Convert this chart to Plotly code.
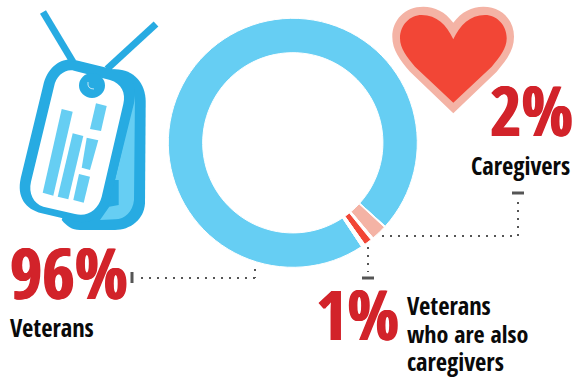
import plotly.graph_objects as go

WIDTH, HEIGHT = 576, 379

# Donut shares; small blank spacers keep the two thin slices apart
slice_labels = ["Veterans", "spacer a", "Caregivers", "spacer b", "Veterans who are also caregivers", "spacer c"]
slice_values = [96, 0.15, 2, 0.35, 1, 0.5]
slice_colors = ["#66CEF3", "#FFFFFF", "#F4B3A5", "#FFFFFF", "#F24636", "#FFFFFF"]

LIGHT_BLUE, DARK_BLUE = "#66CEF3", "#27ABE2"
PINK, RED, TEXT_RED = "#F4B3A5", "#F24636", "#D2232A"
LEADER = "#555555"
INK = "#0A0A0A"
FONT = "Open Sans Condensed, Asap Condensed, Archivo Narrow, Open Sans, sans-serif"

# (text, x, baseline y, size, colour)
labels = [
    ("96%", 10, 300, 70, TEXT_RED),
    ("2%", 490, 136, 68, TEXT_RED),
    ("1%", 316, 340, 68, TEXT_RED),
    ("Caregivers", 471, 175, 24.5, INK),
    ("Veterans", 10, 337, 24.5, INK),
    ("Veterans", 407, 315, 24.5, INK),
    ("who are also", 407, 343, 24, INK),
    ("caregivers", 407, 371, 24.5, INK),
]

# Leader runs: dotted polyline and the solid end tick
leaders = [
    ([(255, 269), (255, 278), (140, 278)], [(132, 272), (132, 283)]),
    ([(368, 247), (368, 272)], [(362, 278), (374, 278)]),
    ([(382, 236), (518, 236), (518, 200)], [(512, 193), (524, 193)]),
]


def path(points, ox=0.0, oy=0.0, k=1 / 3):
    """Build an SVG path from command tuples in a 3x drawing grid."""
    out = []
    for cmd, *xy in points:
        out.append(cmd + " ".join(
            f"{ox + xy[i] * k:.1f},{oy + xy[i + 1] * k:.1f}" for i in range(0, len(xy), 2)))
    return " ".join(out) + " Z"


def filled(d, color):
    return dict(type="path", path=d, xref="x", yref="y", fillcolor=color, line=dict(width=0), layer="above")


def stroke(p, q, color, width, dash="solid"):
    return dict(type="line", x0=p[0], y0=p[1], x1=q[0], y1=q[1], xref="x", yref="y",
                line=dict(color=color, width=width, dash=dash), layer="above")


shapes = []

# Dog tag: straps, rear tag, front tag, engraved bars, eyelet
shapes.append(stroke((43, 12), (73, 62), DARK_BLUE, 7))
shapes.append(stroke((156, 24), (107, 69), DARK_BLUE, 7))
shapes.append(filled(path([
    ("M", 340, 208), ("C", 400, 205, 437, 250, 437, 305), ("L", 435, 610),
    ("C", 432, 660, 390, 690, 345, 690), ("L", 240, 690), ("C", 215, 690, 200, 678, 185, 660),
]), DARK_BLUE))
shapes.append(filled(path([
    ("M", 405, 280), ("L", 402, 600), ("C", 398, 635, 375, 658, 345, 658), ("L", 300, 660),
    ("L", 328, 620), ("L", 356, 615), ("L", 356, 540), ("L", 345, 540),
]), LIGHT_BLUE))
shapes.append(filled(path([
    ("M", 225, 180), ("L", 360, 213), ("C", 400, 225, 412, 270, 402, 310), ("L", 335, 580),
    ("C", 322, 640, 280, 680, 220, 662), ("L", 125, 640), ("C", 75, 628, 50, 590, 62, 535),
    ("L", 130, 255), ("C", 142, 205, 180, 172, 225, 180),
]), DARK_BLUE))
shapes.append(filled(path([
    ("M", 222, 212), ("L", 330, 240), ("C", 365, 250, 378, 280, 370, 312), ("L", 305, 590),
    ("C", 295, 630, 262, 652, 225, 642), ("L", 130, 620), ("C", 100, 610, 85, 580, 93, 545),
    ("L", 162, 260), ("C", 168, 228, 195, 206, 222, 212),
]), "#FFFFFF"))
for bar in [
    [(185, 327), (218, 335), (160, 587), (128, 578)],
    [(218, 400), (250, 408), (205, 598), (173, 590)],
    [(237, 522), (270, 530), (251, 608), (220, 600)],
    [(260, 413), (295, 421), (270, 510), (245, 503)],
    [(288, 310), (320, 318), (303, 393), (270, 387)],
]:
    shapes.append(filled(path([("M", *bar[0])] + [("L", *p) for p in bar[1:]]), LIGHT_BLUE))
shapes.append(dict(type="circle", xref="x", yref="y", x0=79, y0=73, x1=105, y1=98,
                   fillcolor=DARK_BLUE, line=dict(width=0), layer="above"))
shapes.append(dict(type="path", xref="x", yref="y", path="M 88,82 Q 87,89 94,89",
                   line=dict(color="#BFE6F7", width=1), layer="above"))

# Heart with its pale border
shapes.append(filled(path([
    ("M", 220, 68), ("C", 195, 35, 165, 20, 130, 20), ("C", 75, 20, 37, 60, 37, 110),
    ("C", 37, 150, 60, 180, 90, 215), ("L", 220, 340), ("L", 350, 215),
    ("C", 380, 180, 402, 150, 402, 110), ("C", 402, 60, 365, 20, 310, 20), ("C", 275, 20, 245, 35, 220, 68),
], ox=380), PINK))
shapes.append(filled(path([
    ("M", 220, 118), ("C", 200, 75, 170, 45, 125, 45), ("C", 90, 45, 60, 75, 60, 115),
    ("C", 60, 145, 80, 170, 105, 200), ("L", 220, 308), ("L", 335, 200),
    ("C", 360, 170, 380, 145, 380, 115), ("C", 380, 75, 350, 45, 315, 45), ("C", 270, 45, 240, 75, 220, 118),
], ox=380), RED))

for run, tick in leaders:
    for p, q in zip(run, run[1:]):
        shapes.append(stroke(p, q, LEADER, 2, "2px,6px"))
    shapes.append(stroke(tick[0], tick[1], LEADER, 3))


def label_font(size, color):
    # The large percentages get a faint same-colour shadow for extra weight
    heavy = f"0.8px 0 0 {color}, -0.8px 0 0 {color}" if size > 40 else "none"
    return dict(family=FONT, size=size, color=color, shadow=heavy)


annotations = [
    dict(text=f"<b>{t}</b>", x=x, y=y + size * 0.29, xref="x", yref="y", xanchor="left", yanchor="bottom",
         showarrow=False, font=label_font(size, c), borderpad=0, borderwidth=0)
    for t, x, y, size, c in labels
]

CX, CY, R = 292.8, 142.8, 124.5
fig = go.Figure()
fig.add_trace(go.Pie(
    labels=slice_labels, values=slice_values, hole=0.724, sort=False, direction="clockwise",
    rotation=146.5, textinfo="none", showlegend=False,
    marker=dict(colors=slice_colors, line=dict(color="#FFFFFF", width=1)),
    domain=dict(x=[(CX - R) / WIDTH, (CX + R) / WIDTH], y=[1 - (CY + R) / HEIGHT, 1 - (CY - R) / HEIGHT]),
))
fig.update_layout(
    width=WIDTH, height=HEIGHT, margin=dict(l=0, r=0, t=0, b=0),
    paper_bgcolor="#FFFFFF", plot_bgcolor="rgba(0,0,0,0)",
    xaxis=dict(range=[0, WIDTH], visible=False, fixedrange=True),
    yaxis=dict(range=[HEIGHT, 0], visible=False, fixedrange=True),
    shapes=shapes, annotations=annotations,
)
fig.write_html("out.html", config=dict(displayModeBar=False))
